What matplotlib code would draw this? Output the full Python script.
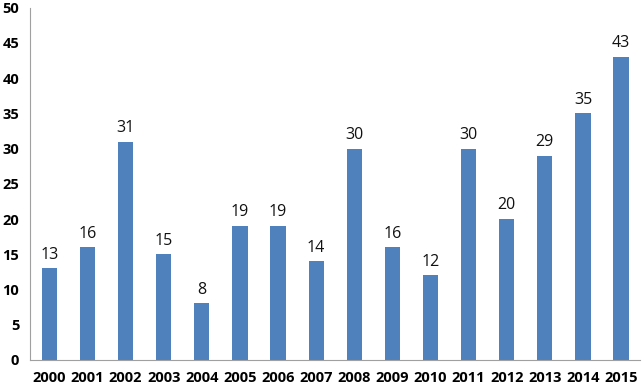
import matplotlib.pyplot as plt

years = ["2000", "2001", "2002", "2003", "2004", "2005", "2006", "2007",
         "2008", "2009", "2010", "2011", "2012", "2013", "2014", "2015"]
counts = [13, 16, 31, 15, 8, 19, 19, 14, 30, 16, 12, 30, 20, 29, 35, 43]

fig = plt.figure(figsize=(6.44, 3.89), dpi=100)
ax = fig.add_axes([0.047, 0.075, 0.947, 0.905])

bars = ax.bar(range(len(years)), counts, width=0.4, color="#4F81BD")
for b, v in zip(bars, counts):
    ax.text(b.get_x() + b.get_width() / 2, v + 0.8, str(v), ha="center",
            va="bottom", fontsize=11.5, family="Open Sans", color="#111111")

ax.set_xlim(-0.5, len(years) - 0.5)
ax.set_ylim(0, 50)
ax.set_yticks(range(0, 51, 5))
ax.set_xticks(range(len(years)))
ax.set_xticklabels(years)
for lab in ax.get_xticklabels() + ax.get_yticklabels():
    lab.set_family("Open Sans")
    lab.set_fontweight("bold")
    lab.set_fontsize(10.5)
ax.tick_params(length=0, pad=8)
ax.tick_params(axis="y", pad=8)

for s in ["top", "right"]:
    ax.spines[s].set_visible(False)
for s in ["left", "bottom"]:
    ax.spines[s].set_color("#A0A0A0")

fig.savefig("out.png", dpi=100)
